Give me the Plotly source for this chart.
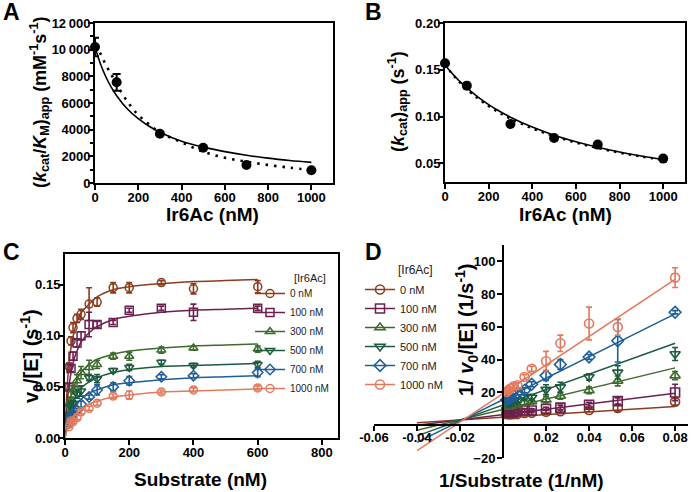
import plotly.graph_objects as go

FONT = "Liberation Sans"

# ---------------- Panel A / B data ----------------
ir_conc = [0, 100, 300, 500, 700, 1000]
kcat_km = [10200, 7550, 3700, 2650, 1350, 950]
kcat_km_err = [700, 625, 0, 0, 0, 0]
kcat_app = [0.157, 0.133, 0.092, 0.077, 0.070, 0.055]

fit_x = [0, 25, 50, 75, 100, 150, 200, 250, 300, 400, 500, 600, 700, 800, 900, 1000]
a_fit_solid = [10200, 8950, 7970, 7190, 6550, 5550, 4820, 4255, 3810, 3130, 2690, 2355, 2085, 1865, 1690, 1545]
a_fit_dotted = [10300, 9700, 8850, 8150, 7400, 6100, 5100, 4400, 3800, 3050, 2350, 1900, 1600, 1350, 1150, 975]
b_fit_solid = [0.155, 0.1481, 0.1417, 0.1359, 0.1306, 0.1211, 0.1128, 0.1056, 0.0993, 0.0887, 0.0801, 0.0731, 0.0672, 0.0621, 0.0578, 0.0541]
b_fit_dotted = [0.156, 0.1480, 0.1410, 0.1348, 0.1293, 0.1195, 0.1112, 0.1040, 0.0978, 0.0873, 0.0790, 0.0721, 0.0664, 0.0614, 0.0572, 0.0537]

# ---------------- Panel C / D data ----------------
series_names = ["0 nM", "100 nM", "300 nM", "500 nM", "700 nM", "1000 nM"]
series_colors = ["#8C3C1E", "#6B2150", "#3D6B2C", "#1D5A3E", "#1F5E98", "#E5795C"]
series_symbols = ["circle-open", "square-open", "triangle-up-open", "triangle-down-open", "diamond-open", "circle-open"]

substrate = [12.5, 18.75, 25, 37.5, 50, 75, 100, 150, 200, 300, 400, 600]
rate = [
    [0.070, 0.095, 0.108, 0.117, 0.121, 0.131, 0.133, 0.147, 0.147, 0.152, 0.146, 0.148],
    [0.050, 0.068, 0.080, 0.093, 0.100, 0.111, 0.111, 0.113, 0.125, 0.127, 0.123, 0.127],
    [0.033, 0.037, 0.047, 0.056, 0.064, 0.069, 0.072, 0.080, 0.080, 0.086, 0.088, 0.087],
    [0.023, 0.031, 0.034, 0.043, 0.046, 0.059, 0.058, 0.066, 0.069, 0.074, 0.071, 0.072],
    [0.0145, 0.0194, 0.024, 0.027, 0.033, 0.040, 0.047, 0.050, 0.056, 0.060, 0.061, 0.064],
    [0.0111, 0.0167, 0.0161, 0.020, 0.0256, 0.029, 0.034, 0.041, 0.042, 0.045, 0.047, 0.049],
]
rate_err = [
    [0.003, 0.004, 0.005, 0.004, 0.005, 0.016, 0.004, 0.005, 0.005, 0.002, 0.005, 0.006],
    [0.003, 0.003, 0.004, 0.004, 0.004, 0.012, 0.003, 0.002, 0.002, 0.002, 0.008, 0.002],
    [0.003, 0.003, 0.004, 0.006, 0.006, 0.007, 0.004, 0.003, 0.004, 0.003, 0.002, 0.003],
    [0.002, 0.003, 0.003, 0.004, 0.005, 0.003, 0.004, 0.002, 0.003, 0.002, 0.002, 0.003],
    [0.001, 0.002, 0.002, 0.002, 0.003, 0.002, 0.005, 0.004, 0.004, 0.002, 0.002, 0.004],
    [0.001, 0.001, 0.002, 0.002, 0.002, 0.002, 0.002, 0.002, 0.004, 0.002, 0.002, 0.002],
]
recip_err = [
    [2, 2, 1, 1, 1, 1, 1, 1, 1, 0.5, 0.5, 0.5],
    [5, 2, 1.5, 1.5, 1, 1, 1, 1, 1, 0.5, 0.5, 0.5],
    [2.5, 3, 2, 2, 2, 1.5, 1.5, 1, 1, 1, 1, 1],
    [4, 4, 2, 3, 3, 2, 1.5, 1.5, 1, 1, 1, 1],
    [1, 13, 1.5, 3, 3, 1.5, 1.5, 1.5, 1, 1, 1, 1],
    [6, 5, 10, 5, 6, 1.5, 1.5, 1.5, 1.5, 1, 1, 1],
]

curve_x = [0, 5, 10, 20, 30, 40, 50, 75, 100, 150, 200, 300, 400, 500, 600]
curve_y = [
    [0, 0.040, 0.064, 0.091, 0.106, 0.116, 0.122, 0.131, 0.138, 0.145, 0.148, 0.151, 0.153, 0.154, 0.155],
    [0, 0.026, 0.044, 0.066, 0.079, 0.087, 0.094, 0.103, 0.109, 0.116, 0.119, 0.123, 0.125, 0.126, 0.127],
    [0, 0.016, 0.027, 0.043, 0.052, 0.059, 0.064, 0.072, 0.077, 0.082, 0.085, 0.088, 0.090, 0.091, 0.092],
    [0, 0.011, 0.020, 0.032, 0.039, 0.045, 0.049, 0.055, 0.059, 0.064, 0.067, 0.070, 0.071, 0.072, 0.073],
    [0, 0.008, 0.014, 0.023, 0.029, 0.034, 0.038, 0.044, 0.047, 0.052, 0.054, 0.057, 0.059, 0.060, 0.061],
    [0, 0.006, 0.010, 0.017, 0.022, 0.025, 0.028, 0.033, 0.036, 0.040, 0.042, 0.045, 0.046, 0.047, 0.048],
]

lb_line_x = [-0.04, 0.08]
lb_line_y = [
    [1.5, 11.5],
    [0.0, 19.5],
    [-3.0, 35.0],
    [-6.5, 50.0],
    [-10.5, 68.0],
    [-15.5, 89.0],
]

W, H = 696, 492


def px_x(a, b):
    return [a / W, b / W]


def px_y(top, bottom):
    return [1 - bottom / H, 1 - top / H]


fig = go.Figure()

# ---- Panel A ----
fig.add_trace(go.Scatter(x=fit_x, y=a_fit_solid, mode="lines", line=dict(color="black", width=1.6, shape="spline"),
                         xaxis="x", yaxis="y", showlegend=False, hoverinfo="skip"))
fig.add_trace(go.Scatter(x=fit_x, y=a_fit_dotted, mode="lines", line=dict(color="black", width=2.6, dash="2.5px,6px", shape="spline"),
                         xaxis="x", yaxis="y", showlegend=False, hoverinfo="skip"))
fig.add_trace(go.Scatter(x=ir_conc, y=kcat_km, mode="markers", marker=dict(color="black", size=10),
                         error_y=dict(type="data", array=kcat_km_err, color="black", thickness=2, width=4),
                         xaxis="x", yaxis="y", showlegend=False, cliponaxis=False))

# ---- Panel B ----
fig.add_trace(go.Scatter(x=fit_x, y=b_fit_solid, mode="lines", line=dict(color="black", width=1.6, shape="spline"),
                         xaxis="x2", yaxis="y2", showlegend=False, hoverinfo="skip"))
fig.add_trace(go.Scatter(x=fit_x, y=b_fit_dotted, mode="lines", line=dict(color="black", width=2.4, dash="2.5px,5px", shape="spline"),
                         xaxis="x2", yaxis="y2", showlegend=False, hoverinfo="skip"))
fig.add_trace(go.Scatter(x=ir_conc, y=kcat_app, mode="markers", marker=dict(color="black", size=10),
                         xaxis="x2", yaxis="y2", showlegend=False, cliponaxis=False))

# ---- Panel C ----
for i in range(6):
    c = series_colors[i]
    fig.add_trace(go.Scatter(x=curve_x, y=curve_y[i], mode="lines", line=dict(color=c, width=1.5, shape="spline"),
                             xaxis="x3", yaxis="y3", showlegend=False, hoverinfo="skip"))
    fig.add_trace(go.Scatter(x=substrate, y=rate[i], mode="markers",
                             marker=dict(symbol=series_symbols[i], color=c, size=8, line=dict(color=c, width=1.5)),
                             error_y=dict(type="data", array=rate_err[i], color=c, thickness=1.6, width=3),
                             xaxis="x3", yaxis="y3", showlegend=False, cliponaxis=False))
    fig.add_trace(go.Scatter(x=[None], y=[None], mode="lines+markers", name=series_names[i],
                             marker=dict(symbol=series_symbols[i], color=c, size=8, line=dict(color=c, width=1.5)),
                             line=dict(color=c, width=1.5), xaxis="x3", yaxis="y3", legend="legend"))

# ---- Panel D ----
for i in range(6):
    c = series_colors[i]
    fig.add_trace(go.Scatter(x=lb_line_x, y=lb_line_y[i], mode="lines", line=dict(color=c, width=1.5),
                             xaxis="x4", yaxis="y4", showlegend=False, hoverinfo="skip"))
    fig.add_trace(go.Scatter(x=[1 / s for s in substrate], y=[1 / v for v in rate[i]], mode="markers",
                             marker=dict(symbol=series_symbols[i], color=c, size=9, line=dict(color=c, width=1.6)),
                             error_y=dict(type="data", array=recip_err[i], color=c, thickness=1.6, width=3),
                             xaxis="x4", yaxis="y4", showlegend=False, cliponaxis=False))
    fig.add_trace(go.Scatter(x=[None], y=[None], mode="lines+markers", name=series_names[i],
                             marker=dict(symbol=series_symbols[i], color=c, size=9, line=dict(color=c, width=1.5)),
                             line=dict(color=c, width=1.5), xaxis="x4", yaxis="y4", legend="legend2"))

tickfont = dict(family=FONT, size=13, color="black", weight="bold")
common = dict(showline=True, linecolor="black", linewidth=2, ticks="outside", ticklen=5, tickwidth=2,
              tickcolor="black", showgrid=False, zeroline=False, tickfont=tickfont, fixedrange=True,
              automargin=False)
xcommon = dict(common, ticklabelstandoff=-4)
ycommon = dict(common, ticklabelstandoff=-5)

fig.update_layout(
    width=W, height=H, margin=dict(l=0, r=0, t=0, b=0, autoexpand=False),
    paper_bgcolor="white", plot_bgcolor="white",
    font=dict(family=FONT, color="black"),
    xaxis=dict(domain=px_x(95, 333), range=[0, 1100], tickvals=[0, 200, 400, 600, 800, 1000], anchor="y", mirror=True, **xcommon),
    yaxis=dict(domain=px_y(23, 183), range=[0, 12000], tickvals=[0, 2000, 4000, 6000, 8000, 10000, 12000],
               ticktext=["0", "2000", "4000", "6000", "8000", "10\u2009000", "12\u2009000"],
               minor=dict(ticks="outside", dtick=1000, ticklen=3, tickwidth=1.5, tickcolor="black"),
               anchor="x", mirror=True, **ycommon),
    xaxis2=dict(domain=px_x(445, 685), range=[0, 1100], tickvals=[0, 200, 400, 600, 800, 1000], anchor="y2", mirror=True, **xcommon),
    yaxis2=dict(domain=px_y(23, 182), range=[0.03, 0.20], tickvals=[0.05, 0.10, 0.15, 0.20], tickformat=".2f",
                anchor="x2", mirror=True, **ycommon),
    xaxis3=dict(domain=px_x(65, 338), range=[0, 850], tickvals=[0, 200, 400, 600, 800], anchor="y3", mirror=True, **xcommon),
    yaxis3=dict(domain=px_y(254, 438), range=[0, 0.18], tickvals=[0, 0.05, 0.10, 0.15], tickformat=".2f",
                anchor="x3", mirror=True, **ycommon),
    xaxis4=dict(domain=px_x(374, 688), range=[-0.06, 0.086],
                tickvals=[-0.06, -0.04, -0.02, 0.02, 0.04, 0.06, 0.08],
                ticktext=["-0.06", "-0.04", "-0.02", "0.02", "0.04", "0.06", "0.08"],
                anchor="free", position=1 - 424.5 / H, **xcommon),
    yaxis4=dict(domain=px_y(245, 458), range=[-20, 110], tickvals=[-20, 20, 40, 60, 80, 100],
                anchor="free", position=503 / W, **dict(common, ticklabelstandoff=-1)),
    legend=dict(x=250 / W, y=1 - 279 / H, xanchor="left", yanchor="top", bgcolor="rgba(0,0,0,0)",
                font=dict(family=FONT, size=10, color="#222"), tracegroupgap=0, itemwidth=30),
    legend2=dict(x=360 / W, y=1 - 275 / H, xanchor="left", yanchor="top", bgcolor="rgba(0,0,0,0)",
                 font=dict(family=FONT, size=11, color="#222"), tracegroupgap=0, itemwidth=30),
)

ann = []
def add_text(text, x, y, size, angle=0, bold=True, xanchor="center", yanchor="middle", color="black"):
    ann.append(dict(text=text, x=x / W, y=1 - y / H, xref="paper", yref="paper", showarrow=False,
                    textangle=angle, xanchor=xanchor, yanchor=yanchor,
                    font=dict(family=FONT, size=size, color=color, weight="bold" if bold else "normal")))

# panel letters
add_text("A", 1, 12, 23, xanchor="left")
add_text("B", 363, 12, 23, xanchor="left")
add_text("C", 1, 252, 23, xanchor="left")
add_text("D", 363, 252, 23, xanchor="left")

# axis titles
add_text("(<i>k</i><sub>cat</sub>/<i>K</i><sub>M</sub>)<sub>app</sub> (mM<sup>-1</sup>s<sup>-1</sup>)", 40, 102, 18, angle=-90)
add_text("Ir6Ac (nM)", 213, 214, 19)
add_text("(<i>k</i><sub>cat</sub>)<sub>app</sub> (s<sup>-1</sup>)", 398, 102, 18, angle=-90)
add_text("Ir6Ac (nM)", 565, 214, 19)
add_text("v<sub>0</sub>/[E] (s<sup>-1</sup>)", 31, 356, 20, angle=-90)
add_text("Substrate (nM)", 200, 479, 19)
add_text("1/ <i>v</i><sub>0</sub>/[E] (1/s<sup>-1</sup>)", 466, 330, 20, angle=-90)
add_text("1/Substrate (1/nM)", 521, 480, 19)

# legend titles
add_text("[Ir6Ac]", 292, 278, 11, bold=False, xanchor="left", color="#222")
add_text("[Ir6Ac]", 396, 270, 12, bold=False, xanchor="left", color="#222")

fig.update_layout(annotations=ann)

fig.write_html("out.html", config={"displayModeBar": False},
               post_script="document.body.style.margin='0px';document.body.style.overflow='hidden';")
